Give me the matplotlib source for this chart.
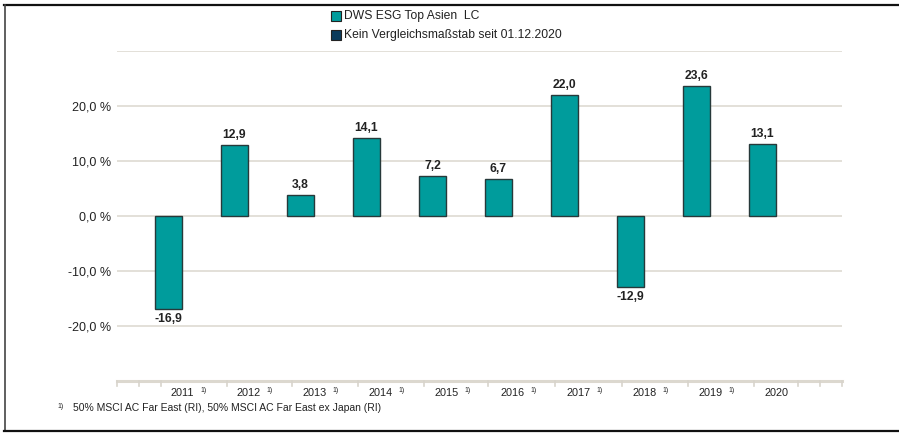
import matplotlib
matplotlib.use("Agg")
import matplotlib.pyplot as plt
from matplotlib.patches import Rectangle
from matplotlib.lines import Line2D
import numpy as np

plt.rcParams['font.family'] = ['Liberation Sans', 'DejaVu Sans']

years = ["2011", "2012", "2013", "2014", "2015", "2016", "2017", "2018", "2019", "2020"]
footnote_flags = [True, True, True, True, True, True, True, True, True, False]
values = [-16.9, 12.9, 3.8, 14.1, 7.2, 6.7, 22.0, -12.9, 23.6, 13.1]
value_labels = ["-16,9", "12,9", "3,8", "14,1", "7,2", "6,7", "22,0", "-12,9", "23,6", "13,1"]
ytick_vals = [-20, -10, 0, 10, 20]
ytick_labels = ["-20,0 %", "-10,0 %", "0,0 %", "10,0 %", "20,0 %"]
legend_labels = ["DWS ESG Top Asien  LC", "Kein Vergleichsmaßstab seit 01.12.2020"]
footnote_text = "50% MSCI AC Far East (RI), 50% MSCI AC Far East ex Japan (RI)"

bar_color = "#009c9c"
edge_color = "#27393a"
dark_color = "#0b3b5c"
grid_color = "#dedad2"
text_color = "#222222"

W, H = 899, 433
fig = plt.figure(figsize=(W / 100, H / 100), dpi=100)
ax = fig.add_axes([117 / W, 1 - 381 / H, (842 - 117) / W, (381 - 51) / H])

x = np.arange(len(years))
ax.bar(x, values, width=0.41, color=bar_color, edgecolor=edge_color, linewidth=1.0, zorder=3)

ax.set_xlim(-0.78, 9.0 + 1.205)
ax.set_ylim(-30, 30)

for g in [30, 20, 10, 0, -10, -20]:
    ax.axhline(g, color=grid_color, linewidth=1.2, zorder=1)
ax.axhline(-30, color="#dcd8cf", linewidth=2.2, zorder=2, clip_on=False)

for s in ax.spines.values():
    s.set_visible(False)

ax.set_yticks(ytick_vals)
ax.set_yticklabels(ytick_labels, fontsize=9, color=text_color)
ax.tick_params(axis='y', length=0, pad=4)
ax.set_xticks([])

# bottom axis small tick marks (decorative)
tick_px = [117, 139, 161, 227, 292, 358, 424, 488, 555, 622, 688, 754, 798, 820, 842]
for px in tick_px:
    fig.add_artist(Line2D([px / W, px / W], [1 - 381 / H, 1 - 386 / H], color="#d8d4cc", linewidth=1.2))

# value labels
for xi, v, lab in zip(x, values, value_labels):
    if v >= 0:
        ax.annotate(lab, (xi, v), xytext=(0, 3), textcoords="offset points",
                    ha="center", va="bottom", fontsize=8.7, fontweight="bold", color=text_color, zorder=4)
    else:
        ax.annotate(lab, (xi, v), xytext=(0, -3), textcoords="offset points",
                    ha="center", va="top", fontsize=8.7, fontweight="bold", color=text_color, zorder=4)

# year labels
for xi, yr, fn in zip(x, years, footnote_flags):
    ax.annotate(yr, (xi, -30), xytext=(10, -5), textcoords="offset points",
                ha="center", va="top", fontsize=7.8, color=text_color, annotation_clip=False)
    if fn:
        ax.annotate("1)", (xi, -30), xytext=(25, -4.5), textcoords="offset points",
                    ha="center", va="top", fontsize=5, color=text_color, annotation_clip=False)

# legend
leg_y = [16, 35]
leg_cols = [bar_color, dark_color]
for yy, col, lab in zip(leg_y, leg_cols, legend_labels):
    fig.add_artist(Rectangle((331 / W, 1 - (yy + 5) / H), 10 / W, 10 / H,
                             facecolor=col, edgecolor="#222222", linewidth=0.8))
    fig.text(344 / W, 1 - yy / H, lab, fontsize=8.7, color=text_color, ha="left", va="center")

# footnote
fig.text(57 / W, 1 - 407 / H, "1)", fontsize=5, color=text_color, ha="left", va="center")
fig.text(73 / W, 1 - 408 / H, footnote_text, fontsize=7.5, color=text_color, ha="left", va="center")

# border box
fig.add_artist(Line2D([4 / W, 1.0], [1 - 5 / H, 1 - 5 / H], color="#111111", linewidth=1.6))
fig.add_artist(Line2D([4.5 / W, 4.5 / W], [1 - 5 / H, 1 - 431 / H], color="#444444", linewidth=1.2))
fig.add_artist(Line2D([4 / W, 1.0], [1 - 431 / H, 1 - 431 / H], color="#111111", linewidth=1.6))

fig.savefig("out.png", dpi=100)
